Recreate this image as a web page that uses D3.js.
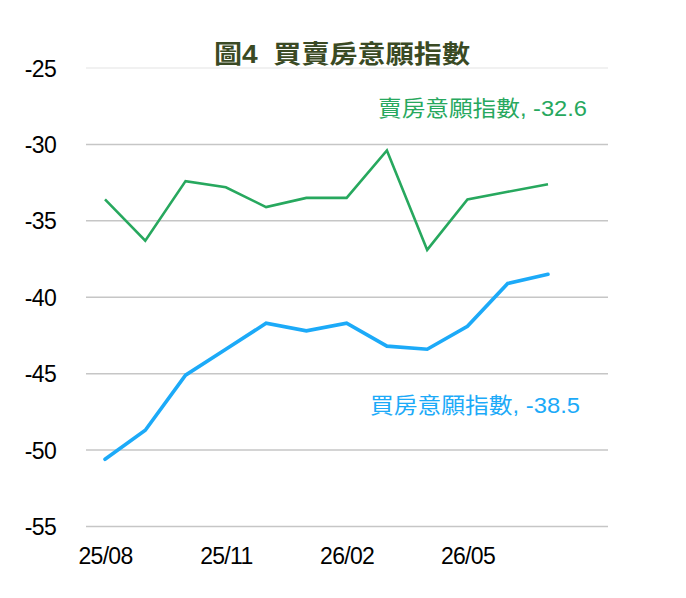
<!DOCTYPE html>
<html>
<head>
<meta charset="utf-8">
<script src="https://cdn.jsdelivr.net/npm/d3@7"></script>
<style>
  body { margin: 0; background: #fff; }
  svg { display: block; font-family: "Liberation Sans", Arial, "Noto Sans CJK TC", sans-serif; }
</style>
</head>
<body>
<div id="chart"></div>
<script>
// months 25/08 .. 26/07
const months = ["25/08","25/09","25/10","25/11","25/12","26/01","26/02","26/03","26/04","26/05","26/06","26/07"];
const sellIndex = [-33.6, -36.3, -32.4, -32.8, -34.1, -33.5, -33.5, -30.4, -36.9, -33.6, -33.1, -32.6];
const buyIndex = [-50.6, -48.7, -45.1, -43.4, -41.7, -42.2, -41.7, -43.2, -43.4, -41.9, -39.1, -38.5];
const xTickLabels = ["25/08", "25/11", "26/02", "26/05"];
const yTicks = [-55, -50, -45, -40, -35, -30, -25];

const width = 686;
const height = 598;

const x = d3.scalePoint()
    .domain(months)
    .range([105, 548]);

const y = d3.scaleLinear()
    .domain([-55, -25])
    .range([526.5, 68]);

const svg = d3.select("#chart").append("svg")
    .attr("width", width)
    .attr("height", height)
    .attr("viewBox", [0, 0, width, height]);

// gridlines
svg.append("g")
    .selectAll("line")
    .data(yTicks)
    .join("line")
    .attr("x1", 86)
    .attr("x2", 608)
    .attr("y1", d => y(d))
    .attr("y2", d => y(d))
    .attr("stroke", d => d === -25 ? "#ececec" : "#c6c6c6")
    .attr("stroke-width", 1.5);

// y axis labels (plain hyphen minus like the original)
svg.append("g")
    .attr("transform", "translate(56,0)")
    .call(d3.axisLeft(y).tickValues(yTicks).tickSize(0).tickPadding(0).tickFormat(d => String(d)))
    .call(g => g.select(".domain").remove())
    .selectAll("text")
        .attr("font-size", 23)
        .attr("letter-spacing", "-0.7px")
        .attr("font-family", "Liberation Sans, Arial, sans-serif")
        .attr("fill", "#000")
        .attr("dy", "0.35em");

// x axis labels
svg.append("g")
    .attr("transform", `translate(0,${y(-55)})`)
    .call(d3.axisBottom(x).tickValues(xTickLabels).tickSize(0).tickPadding(21))
    .call(g => g.select(".domain").remove())
    .selectAll("text")
        .attr("font-size", 23)
        .attr("letter-spacing", "-0.7px")
        .attr("font-family", "Liberation Sans, Arial, sans-serif")
        .attr("fill", "#000");

const line = d3.line()
    .x((d, i) => x(months[i]))
    .y(d => y(d));

svg.append("path")
    .datum(sellIndex)
    .attr("d", line)
    .attr("fill", "none")
    .attr("stroke", "#27a85e")
    .attr("stroke-width", 2.6)
    .attr("stroke-linejoin", "miter");

svg.append("path")
    .datum(buyIndex)
    .attr("d", line)
    .attr("fill", "none")
    .attr("stroke", "#1caaf8")
    .attr("stroke-width", 3.6)
    .attr("stroke-linecap", "round");

// series labels
svg.append("text")
    .attr("x", 378)
    .attr("y", 116)
    .attr("font-size", 22)
    .attr("textLength", 209)
    .attr("lengthAdjust", "spacingAndGlyphs")
    .attr("fill", "#27a85e")
    .text(`賣房意願指數, ${sellIndex[sellIndex.length - 1]}`);

svg.append("text")
    .attr("x", 370)
    .attr("y", 413)
    .attr("font-size", 22)
    .attr("textLength", 210)
    .attr("lengthAdjust", "spacingAndGlyphs")
    .attr("fill", "#1caaf8")
    .text(`買房意願指數, ${buyIndex[buyIndex.length - 1]}`);

// title
svg.append("text")
    .attr("x", 214)
    .attr("y", 63)
    .attr("font-size", 25)
    .attr("font-weight", "bold")
    .attr("textLength", 256)
    .attr("lengthAdjust", "spacingAndGlyphs")
    .attr("fill", "#3a4a24")
    .attr("xml:space", "preserve")
    .text("圖4  買賣房意願指數");
</script>
</body>
</html>
